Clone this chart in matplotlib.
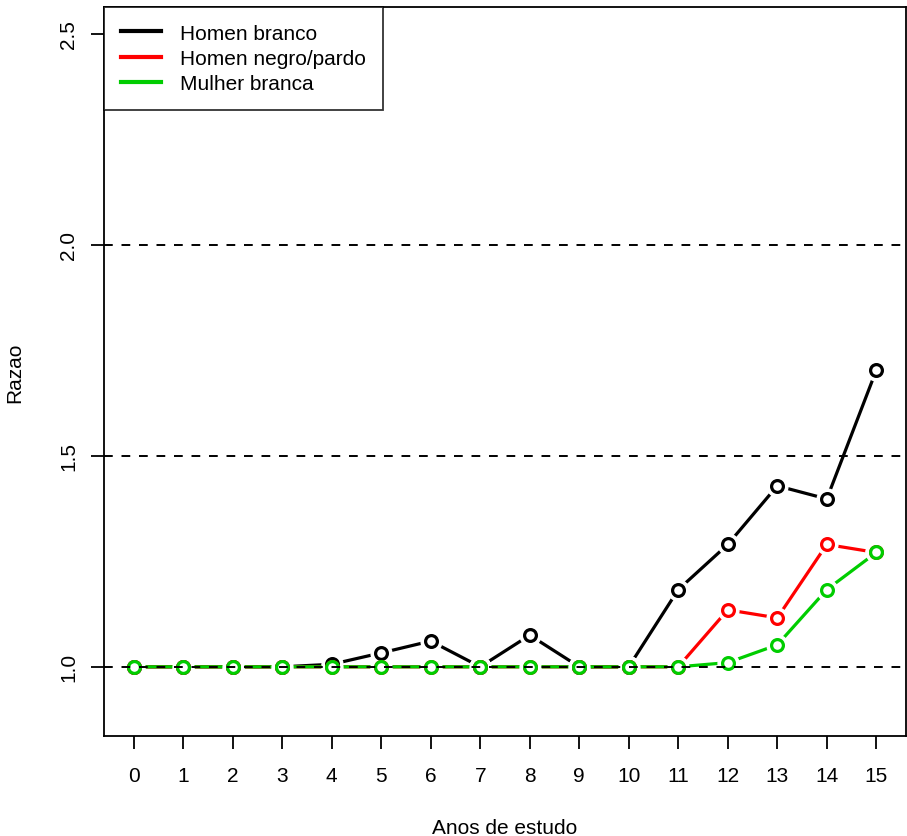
import numpy as np
import matplotlib
matplotlib.use("Agg")
import matplotlib.pyplot as plt
from matplotlib.lines import Line2D

plt.rcParams['font.family'] = ['Liberation Sans', 'DejaVu Sans']

anos = np.arange(0, 16)
homem_branco = [1.0, 1.0, 1.0, 1.0, 1.006, 1.033, 1.061, 1.0, 1.075, 1.0, 1.0,
                1.183, 1.290, 1.429, 1.398, 1.703]
homem_negro = [1.0, 1.0, 1.0, 1.0, 1.0, 1.0, 1.0, 1.0, 1.0, 1.0, 1.0,
               1.0, 1.135, 1.116, 1.290, 1.271]
mulher_branca = [1.0, 1.0, 1.0, 1.0, 1.0, 1.0, 1.0, 1.0, 1.0, 1.0, 1.0,
                 1.0, 1.010, 1.052, 1.183, 1.271]
nomes = ["Homen branco", "Homen negro/pardo", "Mulher branca"]
cores = ["black", "#ff0000", "#00cd00"]
linhas_ref = [1.0, 1.5, 2.0]

fig = plt.figure(figsize=(9.07, 8.37), dpi=100)
ax = fig.add_axes([104/907, 1 - 737/837, 802/907, 729/837])

for y, cor, nome in zip([homem_branco, homem_negro, mulher_branca], cores, nomes):
    ax.plot(anos, y, color=cor, lw=2.3, label=nome, zorder=2, solid_capstyle='butt')
    # halo branco pra imitar os gaps do type="b" do R
    ax.plot(anos, y, ls='none', marker='o', ms=15, mfc='white', mec='white', zorder=2)
    ax.plot(anos, y, ls='none', marker='o', ms=8.5, mfc='white', mec=cor, mew=2.3, zorder=3)

for h in linhas_ref:
    ax.axhline(h, color='black', lw=1.4, dashes=(4.5, 4.5), zorder=4)

ax.set_xlim(-0.6, 15.6)
ax.set_ylim(0.836, 2.564)
ax.set_xticks(anos)
ax.set_yticks([1.0, 1.5, 2.0, 2.5])
ax.set_yticklabels(["1.0", "1.5", "2.0", "2.5"], rotation=90, va='center')
ax.tick_params(direction='out', length=9.5, width=1.3, labelsize=15, pad=12)
ax.tick_params(axis='y', pad=9)
for s in ax.spines.values():
    s.set_linewidth(1.3)

ax.set_xlabel("Anos de estudo", fontsize=15, labelpad=24)
ax.set_ylabel("Razao", fontsize=15, labelpad=25)

handles = [Line2D([], [], color=c, lw=3) for c in cores]
leg = ax.legend(handles, nomes, loc='upper left', fontsize=15, frameon=True,
                fancybox=False, borderaxespad=0, handlelength=1.95,
                labelspacing=0.3, borderpad=0.8, handletextpad=0.9)
leg.get_frame().set_edgecolor('black')
leg.get_frame().set_linewidth(1.3)
leg.set_zorder(5)

fig.savefig("out.png", dpi=100)
